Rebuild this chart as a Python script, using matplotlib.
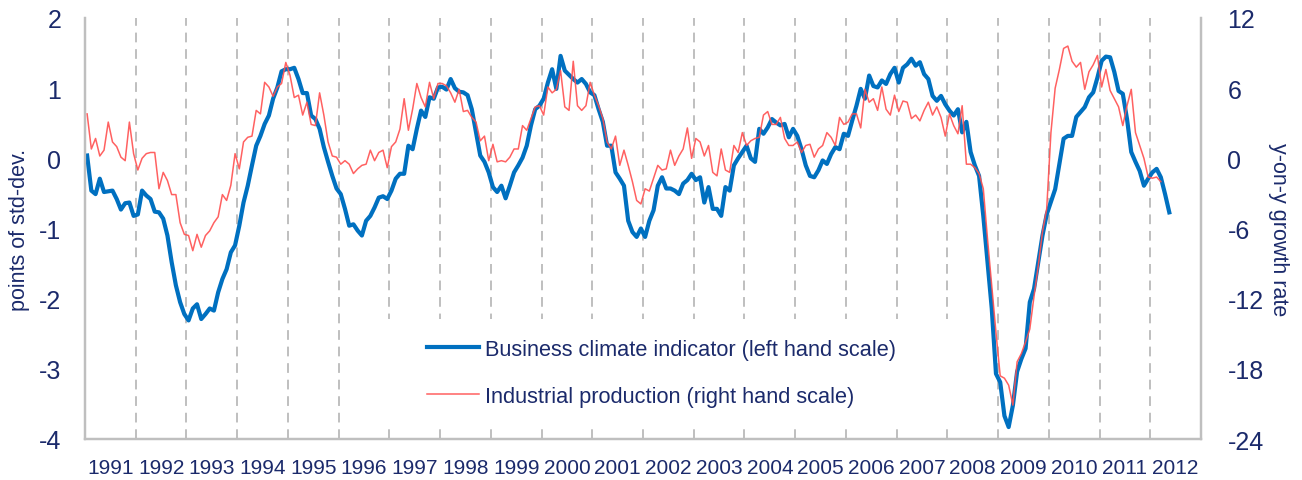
import numpy as np
import matplotlib
matplotlib.use("Agg")
import matplotlib.pyplot as plt
from matplotlib import font_manager
from matplotlib.patches import Rectangle

# pick a narrow sans if available
names = {f.name for f in font_manager.fontManager.ttflist}
font = "Liberation Sans Narrow" if "Liberation Sans Narrow" in names else "Liberation Sans"
plt.rcParams["font.family"] = [font, "DejaVu Sans"]
plt.rcParams["axes.unicode_minus"] = False

# monthly data, Jan 1991 onwards
start_year = 1991
years = list(range(1991, 2013))

# Business climate indicator (points of std-dev, left scale)
bci = [
    0.04, -0.46, -0.51, -0.29, -0.48, -0.47, -0.46, -0.58, -0.73, -0.64, -0.63, -0.82,   # 1991
    -0.80, -0.46, -0.53, -0.58, -0.76, -0.77, -0.86, -1.10, -1.48, -1.81, -2.05, -2.22,  # 1992
    -2.31, -2.14, -2.08, -2.29, -2.22, -2.14, -2.17, -1.91, -1.72, -1.58, -1.34, -1.24,  # 1993
    -0.96, -0.63, -0.39, -0.10, 0.18, 0.32, 0.49, 0.61, 0.85, 1.01, 1.24, 1.27,          # 1994
    1.27, 1.29, 1.13, 0.93, 0.93, 0.61, 0.56, 0.42, 0.16, -0.05, -0.25, -0.43,           # 1995
    -0.51, -0.72, -0.96, -0.94, -1.03, -1.10, -0.89, -0.82, -0.70, -0.56, -0.54, -0.58,  # 1996
    -0.46, -0.29, -0.22, -0.22, 0.18, 0.13, 0.42, 0.68, 0.59, 0.87, 0.85, 1.01,          # 1997
    1.02, 0.98, 1.13, 1.00, 0.95, 0.94, 0.90, 0.70, 0.37, 0.04, -0.05, -0.20,            # 1998
    -0.41, -0.48, -0.39, -0.57, -0.39, -0.20, -0.10, 0.01, 0.18, 0.47, 0.70, 0.75,       # 1999
    0.85, 1.08, 1.27, 0.99, 1.46, 1.25, 1.19, 1.13, 1.08, 1.13, 1.06, 0.94,              # 2000
    0.90, 0.70, 0.52, 0.18, 0.18, -0.20, -0.29, -0.39, -0.89, -1.05, -1.12, -1.00,       # 2001
    -1.12, -0.89, -0.74, -0.39, -0.27, -0.43, -0.43, -0.46, -0.51, -0.36, -0.31, -0.22,  # 2002
    -0.31, -0.27, -0.63, -0.41, -0.72, -0.72, -0.82, -0.41, -0.46, -0.10, 0.00, 0.09,    # 2003
    0.18, 0.00, -0.05, 0.42, 0.35, 0.44, 0.56, 0.51, 0.47, 0.49, 0.30, 0.42,             # 2004
    0.32, 0.13, -0.10, -0.25, -0.27, -0.17, -0.03, -0.08, 0.06, 0.16, 0.13, 0.35,        # 2005
    0.32, 0.54, 0.75, 0.99, 0.85, 1.18, 1.03, 1.01, 1.11, 1.06, 1.20, 1.29,              # 2006
    1.08, 1.29, 1.34, 1.42, 1.32, 1.37, 1.20, 1.13, 0.89, 0.82, 0.89, 0.77,              # 2007
    0.68, 0.61, 0.70, 0.37, 0.52, 0.09, -0.10, -0.25, -0.82, -1.48, -2.14, -3.07,        # 2008
    -3.19, -3.67, -3.83, -3.52, -3.04, -2.86, -2.71, -2.05, -1.86, -1.48, -1.10, -0.80,  # 2009
    -0.62, -0.44, -0.08, 0.28, 0.32, 0.32, 0.59, 0.66, 0.73, 0.87, 0.94, 1.15,           # 2010
    1.39, 1.45, 1.44, 1.23, 0.96, 0.92, 0.56, 0.09, -0.05, -0.18, -0.39, -0.29,          # 2011
    -0.20, -0.15, -0.27, -0.51, -0.77,                                                  # 2012
]

# Industrial production (y-on-y growth rate, right scale)
ip = [
    3.8, 0.8, 1.7, 0.2, 0.7, 3.1, 1.4, 1.0, 0.1, -0.2, 3.1, 0.4,          # 1991
    -1.0, 0.0, 0.4, 0.5, 0.5, -2.6, -1.2, -1.9, -3.1, -3.1, -5.5, -6.5,   # 1992
    -6.6, -7.9, -6.5, -7.6, -6.6, -6.2, -5.5, -5.0, -3.1, -3.6, -2.3, 0.4, # 1993
    -0.9, 1.4, 1.8, 1.9, 4.1, 3.8, 6.5, 6.1, 5.3, 6.1, 6.4, 8.2,          # 1994
    7.1, 5.2, 5.4, 3.7, 4.8, 2.9, 2.8, 5.6, 3.7, 1.4, 0.2, 0.1,           # 1995
    -0.5, -0.2, -0.5, -1.3, -0.9, -0.6, -0.5, 0.7, -0.2, 0.5, 0.7, -0.8,  # 1996
    1.0, 1.4, 2.5, 5.1, 2.4, 4.2, 6.4, 5.2, 4.4, 6.5, 5.1, 6.4,           # 1997
    6.4, 6.2, 5.6, 4.8, 5.9, 4.0, 4.1, 3.5, 3.1, 1.5, 1.9, -0.2,          # 1998
    1.2, -0.3, -0.2, -0.3, 0.1, 0.8, 0.8, 2.8, 2.4, 3.4, 4.4, 4.5,        # 1999
    3.7, 6.1, 5.6, 5.9, 7.5, 4.4, 4.1, 8.3, 4.5, 4.1, 4.5, 6.5,           # 2000
    5.4, 4.5, 3.4, 1.4, 0.8, 1.9, -0.6, 0.7, -0.6, -2.0, -3.6, -3.9,      # 2001
    -2.6, -2.8, -1.7, -0.6, -1.0, -0.9, 0.7, -0.6, 0.2, 0.8, 2.6, 0.0,    # 2002
    1.7, 1.4, 0.2, 1.1, -1.2, -1.5, 0.8, -1.0, -1.2, 1.1, 0.5, 2.2,       # 2003
    1.1, 1.5, 1.7, 1.8, 3.7, 4.0, 2.9, 2.9, 3.5, 1.7, 1.1, 1.1,           # 2004
    1.4, 0.5, 1.1, 1.2, 0.1, 0.8, 1.1, 2.2, 1.8, 1.1, 3.5, 2.9,           # 2005
    3.1, 3.8, 3.8, 2.6, 5.9, 4.8, 5.1, 4.1, 6.1, 4.2, 3.7, 5.4,           # 2006
    4.0, 4.9, 4.8, 3.4, 3.7, 3.2, 4.1, 4.8, 3.7, 4.4, 3.5, 1.9,           # 2007
    3.8, 2.8, 2.1, 4.5, -0.5, -0.5, -0.8, -1.3, -2.6, -6.9, -10.9, -14.9, # 2008
    -18.6, -18.8, -19.4, -21.1, -17.4, -16.7, -15.7, -14.6, -11.8, -9.2, -6.3, -4.3,  # 2009
    2.2, 6.0, 7.6, 9.4, 9.6, 8.3, 7.8, 8.2, 5.9, 7.4, 8.0, 8.8,           # 2010
    6.1, 7.6, 5.8, 5.1, 4.4, 2.8, 4.5, 5.9, 2.2, 1.1, 0.0, -1.6,          # 2011
    -1.7, -1.6, -2.0,                                                     # 2012
]

left_ticks = [-4, -3, -2, -1, 0, 1, 2]
right_ticks = [-24, -18, -12, -6, 0, 6, 12]

x_bci = start_year + (np.arange(len(bci)) + 0.5) / 12
x_ip = start_year + (np.arange(len(ip)) + 0.5) / 12

navy = "#1B2A6B"
blue = "#0070C0"
red = "#FF5050"
grey = "#BFBFBF"

fig = plt.figure(figsize=(13.02, 4.81), dpi=100)
ax1 = fig.add_axes([85 / 1302, 1 - 440 / 481, 1116 / 1302, 421 / 481])
ax2 = ax1.twinx()

# year separators
for y in years[1:]:
    ax1.axvline(y, color=grey, lw=1.4, ls=(0, (5, 3.5)), zorder=1)

# white box behind the legend
ax1.add_patch(Rectangle((0.2375, 0.028), 0.548, 0.2565, transform=ax1.transAxes,
                        facecolor="white", edgecolor="none", zorder=2))

l1, = ax1.plot(x_bci, bci, color=blue, lw=3.0, zorder=3, solid_joinstyle="round",
               label="Business climate indicator (left hand scale)")
l2, = ax2.plot(x_ip, ip, color=red, lw=1.1, alpha=0.9,
               label="Industrial production (right hand scale)")

ax1.set_xlim(1991, 2013)
ax1.set_ylim(-4, 2)
ax2.set_ylim(-24, 12)
ax1.set_yticks(left_ticks)
ax2.set_yticks(right_ticks)
ax1.set_xticks(np.array(years) + 0.5)
ax1.set_xticklabels([str(y) for y in years])

ax1.tick_params(axis="y", length=0, pad=17, labelsize=18, labelcolor=navy)
ax2.tick_params(axis="y", length=0, pad=19, labelsize=18, labelcolor=navy)
ax1.tick_params(axis="x", length=0, pad=14, labelsize=15, labelcolor=navy)

for ax in (ax1, ax2):
    ax.spines["top"].set_visible(False)
    for s in ("left", "right", "bottom"):
        ax.spines[s].set_color(grey)
        ax.spines[s].set_linewidth(1.6)

ax1.set_ylabel("points of std-dev.", fontsize=15.5, color=navy)
ax1.yaxis.set_label_coords(-0.049, 0.5)
ax2.set_ylabel("y-on-y growth rate", fontsize=15.5, color=navy, rotation=270, va="center")
ax2.yaxis.set_label_coords(1.069, 0.5)

ax2.legend(handles=[l1, l2], loc="upper left", bbox_to_anchor=(0.3065, 0.238),
           frameon=False, fontsize=15.7, handlelength=2.4, handletextpad=0.25,
           labelspacing=1.2, borderpad=0, borderaxespad=0, labelcolor=navy)

fig.savefig("out.png", dpi=100)
